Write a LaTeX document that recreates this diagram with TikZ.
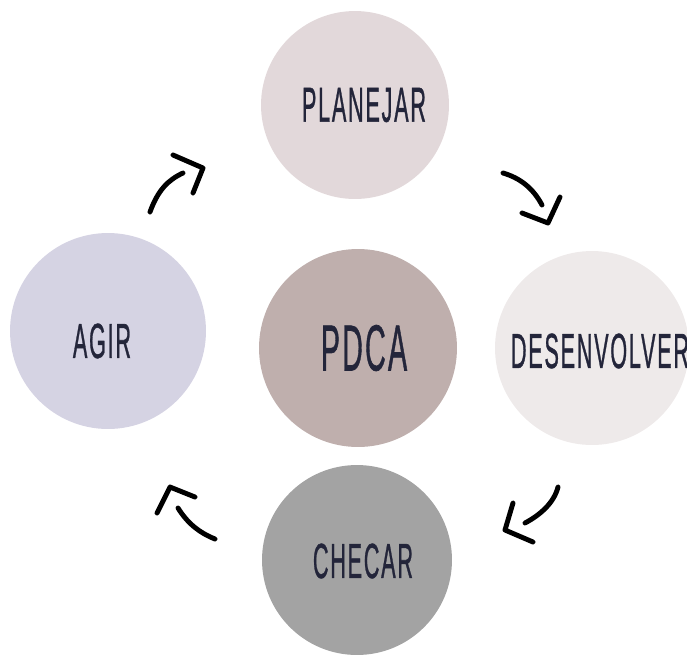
\documentclass[tikz,border=0pt]{standalone}
\usepackage{fontspec}
\setmainfont{Liberation Sans}[LetterSpace=8, FakeBold=1.2]
\usepackage{tikz}
\usetikzlibrary{positioning}
\definecolor{planC}{HTML}{E2D8DA}
\definecolor{pdcaC}{HTML}{BFAFAD}
\definecolor{agirC}{HTML}{D5D3E3}
\definecolor{desC}{HTML}{EEEAEA}
\definecolor{checC}{HTML}{A3A3A3}
\definecolor{inkC}{HTML}{23253A}
\newcommand{\narrow}[1]{\scalebox{0.44}[1]{#1}}
\tikzset{
  phase/.style={circle, inner sep=0pt},
  word/.style={inner sep=0pt, text=inkC, font=\fontsize{28}{28}\selectfont},
  stroke/.style={line width=2.8pt, line cap=round, line join=round, black}
}
\begin{document}
\begin{tikzpicture}[x=0.02cm, y=-0.02cm]
  \useasboundingbox (0,0) rectangle (687,657);
  % circles of the cycle
  \node[phase, fill=planC, minimum size=3.76cm] (plan) at (355,105) {};
  \node[phase, fill=pdcaC, minimum size=3.96cm] (pdca) at (358,348) {};
  \node[phase, fill=agirC, minimum size=3.92cm] (agir) at (108,331) {};
  \node[phase, fill=desC, minimum size=3.88cm] (des) at (592,348) {};
  \node[phase, fill=checC, minimum size=3.80cm] (chec) at (357,560) {};
  % their words
  \node[word] (planT) at (364,105) {\narrow{PLANEJAR}};
  \node[word, font=\fontsize{37}{37}\selectfont] (pdcaT) at (364,348) {\narrow{PDCA}};
  \node[word] (agirT) at (102,341) {\narrow{AGIR}};
  \node[word] (desT) at (600,351) {\narrow{DESENVOLVER}};
  \node[word] (checT) at (363,561) {\narrow{CHECAR}};
  % hand drawn arrows
  \draw[stroke] (150,212) .. controls (158,190) and (168,180) .. (183,173);
  \draw[stroke] (173,155) -- (203,168) -- (193,193);
  \draw[stroke] (503,173) .. controls (520,178) and (533,188) .. (542,205);
  \draw[stroke] (522,213) -- (548,223) -- (560,197);
  \draw[stroke] (558,487) .. controls (554,503) and (540,515) .. (525,523);
  \draw[stroke] (513,503) -- (505,530) -- (533,542);
  \draw[stroke] (178,508) .. controls (188,524) and (200,533) .. (215,539);
  \draw[stroke] (157,513) -- (170,487) -- (195,497);
\end{tikzpicture}
\end{document}
